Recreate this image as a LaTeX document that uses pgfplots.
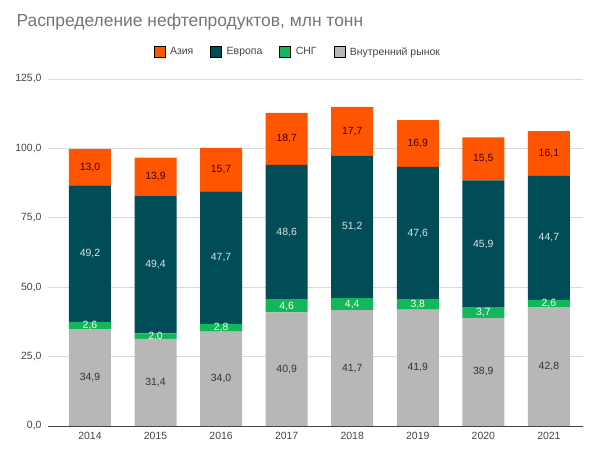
\documentclass[border=0pt]{standalone}
\usepackage{pgfplots}
\pgfplotsset{compat=1.18}
\usepackage{pgfplotstable}
\usepackage{fontspec}
\setmainfont{Liberation Sans}

\definecolor{asia}{HTML}{FF5400}
\definecolor{europe}{HTML}{004C57}
\definecolor{cis}{HTML}{12B75A}
\definecolor{home}{HTML}{B7B7B7}
\definecolor{gridc}{HTML}{D9D9D9}
\definecolor{txt}{HTML}{444444}
\definecolor{ttl}{HTML}{757575}

% year index, domestic, CIS, Europe, Asia (mln t)
\pgfplotstableread{
x dom cis eur asia
0 34.9 2.6 49.2 13.0
1 31.4 2.0 49.4 13.9
2 34.0 2.8 47.7 15.7
3 40.9 4.6 48.6 18.7
4 41.7 4.4 51.2 17.7
5 41.9 3.8 47.6 16.9
6 38.9 3.7 45.9 15.5
7 42.8 2.6 44.7 16.1
}\data

\pgfplotsset{
  common/.style={
    at={(48bp,35bp)}, anchor=south west,
    scale only axis, width=535bp, height=347bp,
    xmin=-0.64, xmax=7.52, ymin=0, ymax=125,
    /pgf/number format/.cd, fixed, fixed zerofill, precision=1,
    use comma, assume math mode=true,
  },
}

\begin{document}
\begin{tikzpicture}
\useasboundingbox (0,0) rectangle (590bp,461bp);
\node[anchor=west, text=ttl, font=\fontsize{17.5}{20}\selectfont] at (13bp,439bp)
  {Распределение нефтепродуктов, млн тонн};

\begin{axis}[
  common,
  ybar stacked, bar width=0.64,
  axis lines=left,
  y axis line style={draw=none},
  x axis line style={draw=txt, line width=0.8pt, -},
  major tick length=0pt,
  ytick={0,25,50,75,100,125},
  xtick={0,...,7},
  xticklabels={2014,2015,2016,2017,2018,2019,2020,2021},
  ymajorgrids, grid style={gridc, line width=0.8pt},
  tick label style={font=\fontsize{10.5}{12}\selectfont, text=txt},
  yticklabel style={xshift=-3bp},
  xticklabel style={yshift=-3bp},
  legend image code/.code={\fill[#1] (0bp,-5.5bp) rectangle (11bp,5.5bp);},
  legend columns=4,
  legend style={draw=none, at={(0.467,1.078)}, anchor=center,
    font=\fontsize{10.5}{12}\selectfont, text=txt,
    /tikz/every odd column/.append style={column sep=3bp},
    /tikz/every even column/.append style={column sep=15bp}},
]
\addlegendimage{fill=asia}\addlegendentry{Азия}
\addlegendimage{fill=europe}\addlegendentry{Европа}
\addlegendimage{fill=cis}\addlegendentry{СНГ}
\addlegendimage{fill=home}\addlegendentry{Внутренний рынок}

\addplot[fill=home, draw=none, forget plot] table[x=x, y=dom] {\data};
\addplot[fill=cis, draw=none, forget plot] table[x=x, y=cis] {\data};
\addplot[fill=europe, draw=none, forget plot] table[x=x, y=eur] {\data};
\addplot[fill=asia, draw=none, forget plot] table[x=x, y=asia] {\data};
\end{axis}

\begin{axis}[
  common, hide axis,
  nodes near coords, point meta=explicit,
  nodes near coords style={anchor=center, font=\fontsize{10.5}{12}\selectfont},
]
\addplot[draw=none, mark=none, nodes near coords style={text=black!80}]
  table[x=x, y expr=\thisrow{dom}/2, meta=dom] {\data};
\addplot[draw=none, mark=none, nodes near coords style={text=white}]
  table[x=x, y expr=\thisrow{dom}+\thisrow{cis}/2, meta=cis] {\data};
\addplot[draw=none, mark=none, nodes near coords style={text=white!85!europe}]
  table[x=x, y expr=\thisrow{dom}+\thisrow{cis}+\thisrow{eur}/2, meta=eur] {\data};
\addplot[draw=none, mark=none, nodes near coords style={text=black!75!red}]
  table[x=x, y expr=\thisrow{dom}+\thisrow{cis}+\thisrow{eur}+\thisrow{asia}/2, meta=asia] {\data};
\end{axis}
\end{tikzpicture}
\end{document}
